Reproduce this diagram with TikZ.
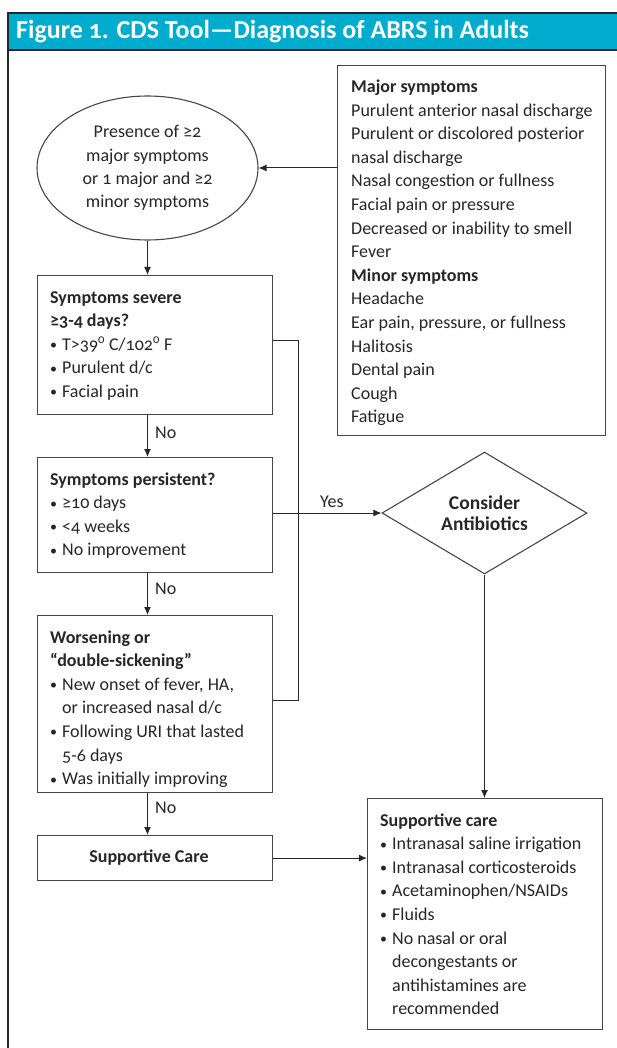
\documentclass[tikz,border=0pt]{standalone}
\usepackage{fontspec}
\setmainfont{Carlito}[Numbers=OldStyle]
\usetikzlibrary{arrows.meta,shapes.geometric}
\definecolor{barcol}{RGB}{0,172,205}
\definecolor{ink}{RGB}{38,38,38}
\definecolor{edgecol}{RGB}{70,70,70}
\newcommand{\mlines}[1]{\vtop{\baselineskip=23.6pt\lineskiplimit=-20pt\lineskip=0pt #1}}
\newcommand{\bul}{\makebox[12pt][l]{\raisebox{0.6pt}{\fontsize{14}{14}\selectfont •}}}
\newcommand{\bph}{\hspace*{12pt}}
\begin{document}
\begin{tikzpicture}[x=1pt,y=-1pt,
  txt/.style={inner sep=0pt, anchor=base west, text=ink, font=\fontsize{18}{23.6}\selectfont},
  box/.style={draw=edgecol, line width=1.1pt, inner sep=0pt, anchor=north west},
  conn/.style={draw=ink, line width=1pt},
  arr/.style={conn, -{Latex[length=8pt,width=7pt]}},
  lab/.style={inner sep=0pt, anchor=base west, text=ink, font=\fontsize{18}{20}\selectfont}]
\useasboundingbox (0,0) rectangle (616,1048);
% frame and title bar
\fill[barcol] (8,13) rectangle (630,50);
\draw[ink, line width=1.4pt] (8,1060) -- (8,13) -- (630,13);
\draw[ink, line width=1.4pt] (8,50) -- (630,50);
\node[inner sep=0pt, anchor=base west, text=white, font=\fontsize{26}{28}\selectfont\bfseries] (title) at (16,39) {Figure 1. CDS Tool—Diagnosis of ABRS in Adults};
% shapes
\node[draw=edgecol, line width=1.1pt, ellipse, minimum width=221, minimum height=144, inner sep=0pt, align=center, text=ink, font=\fontsize{18}{23.4}\selectfont] (ell) at (147.5,168) {Presence of ≥2\\major symptoms\\or 1 major and ≥2\\minor symptoms};
\node[box, minimum width=268, minimum height=370] (maj) at (337,65) {};
\node[box, minimum width=235, minimum height=139] (b1) at (37,275) {};
\node[box, minimum width=235, minimum height=115] (b2) at (37,457) {};
\node[box, minimum width=235, minimum height=177] (b3) at (37,615) {};
\node[box, minimum width=235, minimum height=45] (b4) at (37,835) {};
\node[box, minimum width=235, minimum height=231] (sc) at (367,798) {};
\node[draw=edgecol, line width=1.1pt, diamond, minimum width=205, minimum height=119, inner sep=0pt, align=center, text=ink, font=\fontsize{19.5}{21.5}\selectfont\bfseries] (dia) at (484.5,513) {Consider\\Antibiotics};
% texts
\node[txt] (tmaj) at (351,92.5) {\mlines{\hbox{\bfseries Major symptoms}\hbox{Purulent anterior nasal discharge}\hbox{Purulent or discolored posterior}\hbox{nasal discharge}\hbox{Nasal congestion or fullness}\hbox{Facial pain or pressure}\hbox{Decreased or inability to smell}\hbox{Fever}\hbox{\bfseries Minor symptoms}\hbox{Headache}\hbox{Ear pain, pressure, or fullness}\hbox{Halitosis}\hbox{Dental pain}\hbox{Cough}\hbox{Fatigue}}};
\node[txt] (tb1) at (50,303) {\mlines{\hbox{\bfseries Symptoms severe}\hbox{\bfseries ≥3-4 days?}\hbox{\bul T>39\textsuperscript{0} C/102\textsuperscript{0} F}\hbox{\bul Purulent d/c}\hbox{\bul Facial pain}}};
\node[txt] (tb2) at (50,485) {\mlines{\hbox{\bfseries Symptoms persistent?}\hbox{\bul ≥10 days}\hbox{\bul <4 weeks}\hbox{\bul No improvement}}};
\node[txt] (tb3) at (50,643) {\mlines{\hbox{\bfseries Worsening or}\hbox{\bfseries “double-sickening”}\hbox{\bul New onset of fever, HA,}\hbox{\bph or increased nasal d/c}\hbox{\bul Following URI that lasted}\hbox{\bph 5-6 days}\hbox{\bul Was initially improving}}};
\node[txt, anchor=base] (tb4) at (149,862) {\bfseries Supportive Care};
\node[txt] (tsc) at (380,826) {\mlines{\hbox{\bfseries Supportive care}\hbox{\bul Intranasal saline irrigation}\hbox{\bul Intranasal corticosteroids}\hbox{\bul Acetaminophen/NSAIDs}\hbox{\bul Fluids}\hbox{\bul No nasal or oral}\hbox{\bph decongestants or}\hbox{\bph antihistamines are}\hbox{\bph recommended}}};
% connectors
\coordinate (j1) at (298,340);
\coordinate (j2) at (298,700);
\draw[arr] (maj.west |- ell.east) -- (ell.east);
\draw[arr] (ell.south) -- (ell.south |- b1.north);
\draw[arr] (ell.south |- b1.south) -- (ell.south |- b2.north);
\draw[arr] (ell.south |- b2.south) -- (ell.south |- b3.north);
\draw[arr] (ell.south |- b3.south) -- (ell.south |- b4.north);
\draw[arr] (b4.east) -- (b4.east -| sc.west);
\draw[arr] (dia.south) -- (dia.south |- sc.north);
\draw[arr] (b2.east |- dia.west) -- (dia.west);
\draw[conn] (b1.east |- j1) -- (j1) -- (j2) -- (b3.east |- j2);
% labels
\node[lab] (no1) at (155,438) {No};
\node[lab] (no2) at (155,594) {No};
\node[lab] (no3) at (155,813) {No};
\node[lab] (yes) at (320,507) {Yes};
\end{tikzpicture}
\end{document}
